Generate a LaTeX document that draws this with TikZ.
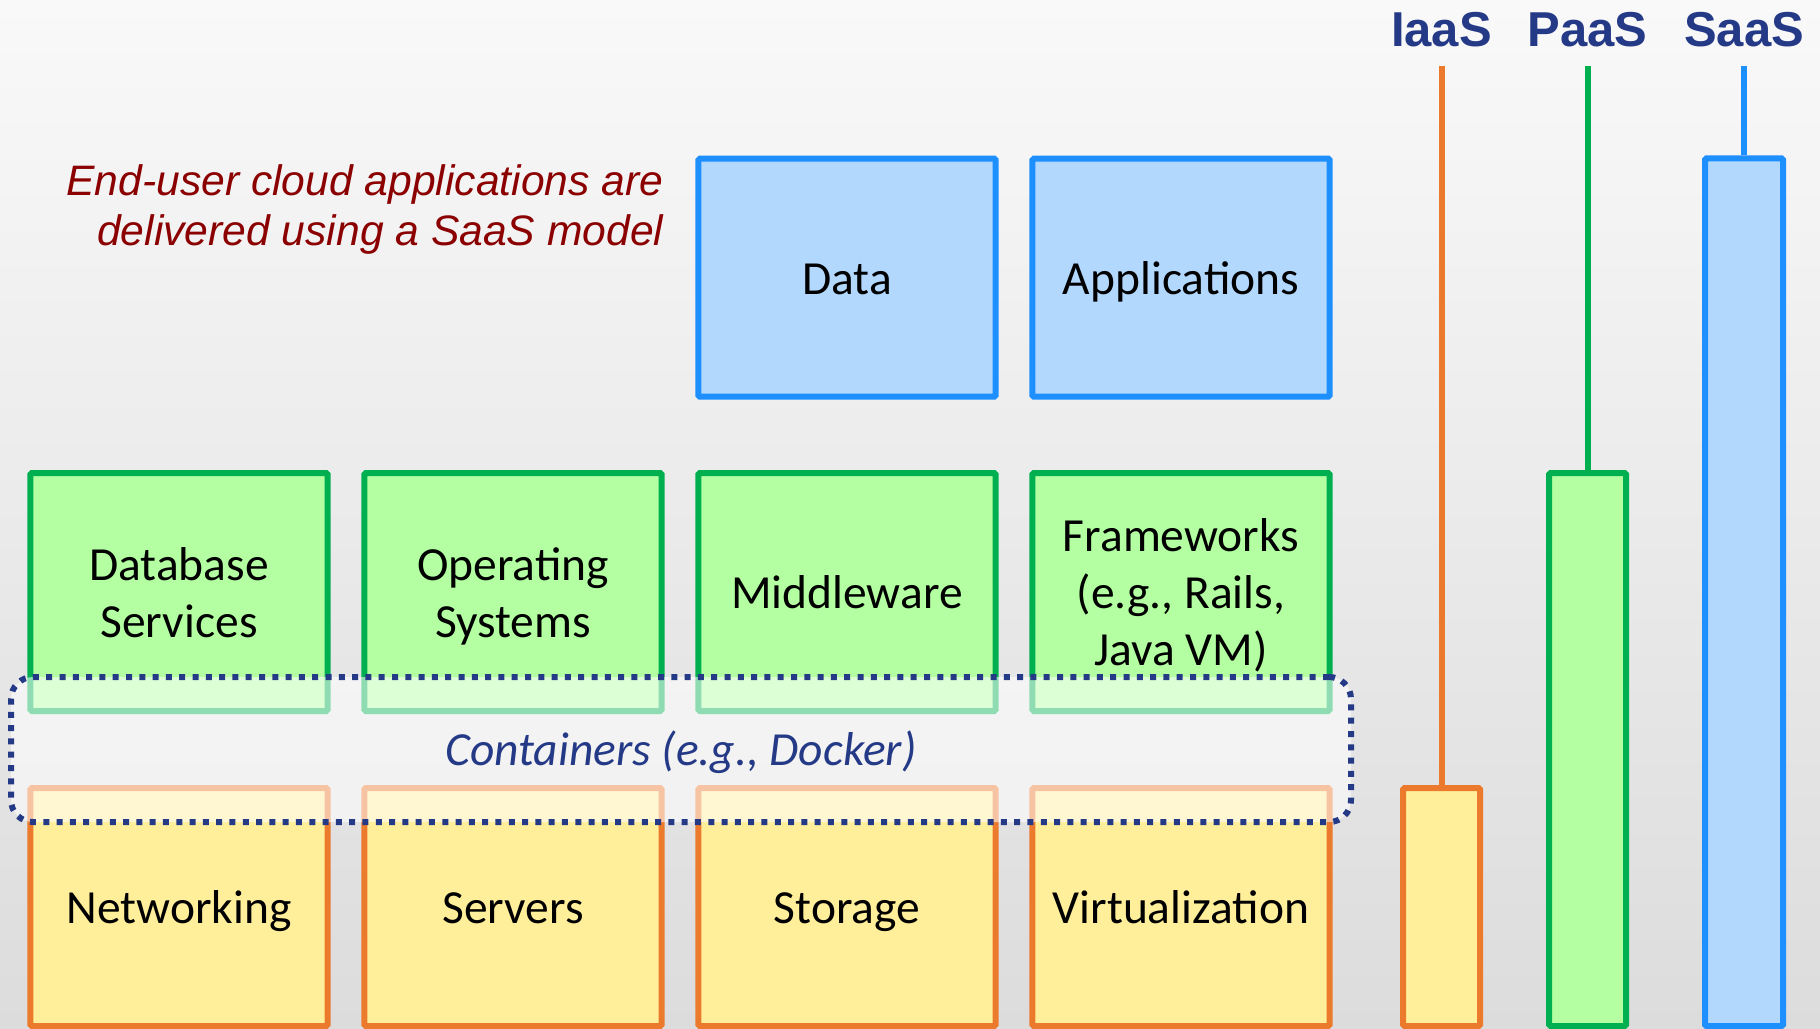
\documentclass[tikz,border=0pt]{standalone}
\usepackage{fontspec}
\setmainfont{Carlito}
\newfontfamily\arialfont{Liberation Sans}
\definecolor{bbord}{HTML}{1E8FFF}
\definecolor{bfill}{HTML}{B3D8FE}
\definecolor{gbord}{HTML}{00B050}
\definecolor{gfill}{HTML}{B3FFA1}
\definecolor{obord}{HTML}{EC7A2C}
\definecolor{ofill}{HTML}{FFEF9A}
\definecolor{navy}{HTML}{253A87}
\definecolor{dred}{HTML}{8B0000}
\definecolor{bgtop}{HTML}{F9F9F9}
\definecolor{bgbot}{HTML}{DCDCDC}
\begin{document}
\begin{tikzpicture}[x=1pt,y=-1pt,
  box/.style={draw, line width=6pt, rounded corners=1.5pt, minimum width=297.4pt, minimum height=238pt, inner sep=0pt},
  bluebox/.style={box, draw=bbord, fill=bfill},
  greenbox/.style={box, draw=gbord, fill=gfill},
  orangebox/.style={box, draw=obord, fill=ofill},
  boxtext/.style={font=\fontsize{47.5}{57}\selectfont, align=center, inner sep=0pt, yshift=-16.5pt},
  modellabel/.style={font=\arialfont\bfseries\fontsize{49}{55}\selectfont, text=navy, anchor=base, inner sep=0pt},
  stem/.style={line width=6pt}
]
\useasboundingbox (0,0) rectangle (1820,1028);
\shade[top color=bgtop, bottom color=bgbot] (0,0) rectangle (1820,1028);

% top row
\node[bluebox] (data) at (847,277.7) {};
\node[bluebox] (apps) at (1181,277.7) {};
% middle row
\node[greenbox] (dbs) at (179,592) {};
\node[greenbox] (os) at (513,592) {};
\node[greenbox] (mw) at (847,592) {};
\node[greenbox] (fw) at (1181,592) {};
% bottom row
\node[orangebox] (net) at (179,907) {};
\node[orangebox] (srv) at (513,907) {};
\node[orangebox] (sto) at (847,907) {};
\node[orangebox] (virt) at (1181,907) {};

% texts
\node[boxtext] (tdata) at (data.center) {\smash{Data}};
\node[boxtext] (tapps) at (apps.center) {\smash{Applications}};
\node[boxtext] (tdbs) at (dbs.center) {\smash{Database}\\\smash{Services}};
\node[boxtext] (tos) at (os.center) {\smash{Operating}\\\smash{Systems}};
\node[boxtext] (tmw) at (mw.center) {\smash{Middleware}};
\node[boxtext] (tfw) at (fw.center) {\smash{Frameworks}\\\smash{(e.g., Rails,}\\\smash{Java VM)}};
\node[boxtext] (tnet) at (net.center) {\smash{Networking}};
\node[boxtext] (tsrv) at (srv.center) {\smash{Servers}};
\node[boxtext] (tsto) at (sto.center) {\smash{Storage}};
\node[boxtext] (tvirt) at (virt.center) {\smash{Virtualization}};

% container overlay
\node[draw=navy, line width=6pt, dash pattern=on 6pt off 7.3pt, rounded corners=22pt,
      fill=white, fill opacity=0.56, minimum width=1340pt, minimum height=145pt, inner sep=0pt]
      (cont) at (681,749.5) {};
\node[font=\itshape\fontsize{47.5}{57}\selectfont, text=navy, anchor=base, inner sep=0pt]
      (ctext) at (681,765) {Containers (e.g., Docker)};

% note
\node[font=\arialfont\itshape\fontsize{42.6}{50.5}\selectfont, text=dred, align=right, anchor=east, inner sep=0pt]
      (note) at (663.5,220.5) {\smash{End-user cloud applications are}\\\smash{delivered using a SaaS model}};

% service model bars
\node[box, draw=obord, fill=ofill, minimum width=77pt, minimum height=238pt] (ibar) at (1441.5,907) {};
\node[box, draw=gbord, fill=gfill, minimum width=77pt, minimum height=553pt] (pbar) at (1587.5,749.5) {};
\node[box, draw=bbord, fill=bfill, minimum width=78pt, minimum height=867.7pt] (sbar) at (1744,592.2) {};

\node[modellabel] (iaas) at (1441.5,46) {IaaS};
\node[modellabel] (paas) at (1587.5,46) {PaaS};
\node[modellabel] (saas) at (1744,46) {SaaS};

\coordinate (itop) at (1441.5,66);
\coordinate (ptop) at (1587.5,66);
\coordinate (stop) at (1744,66);
\draw[stem, draw=obord] (itop) -- (ibar.north);
\draw[stem, draw=gbord] (ptop) -- (pbar.north);
\draw[stem, draw=bbord] (stop) -- (sbar.north);
\end{tikzpicture}
\end{document}
